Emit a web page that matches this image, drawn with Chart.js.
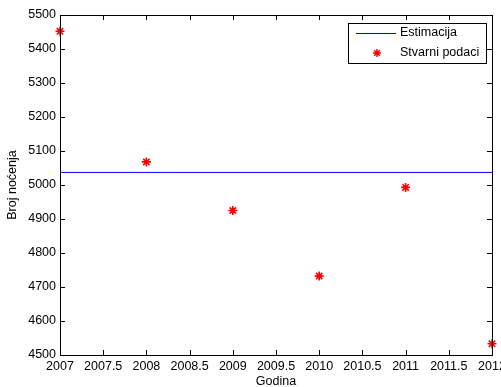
<!DOCTYPE html>
<html>
<head>
<meta charset="utf-8">
<script src="https://cdn.jsdelivr.net/npm/chart.js@4"></script>
<style>
  html, body { margin: 0; padding: 0; background: #fff; }
  #wrap { width: 501px; height: 387px; }
</style>
</head>
<body>
<div id="wrap"><canvas id="chart" width="501" height="387"></canvas></div>
<script>
// Data
const years = [2007, 2008, 2009, 2010, 2011, 2012];
const nights = [5452, 5068, 4925, 4732, 4993, 4533];
const estimate = 5037; // constant estimate
const xTicks = [2007, 2007.5, 2008, 2008.5, 2009, 2009.5, 2010, 2010.5, 2011, 2011.5, 2012];
const yTicks = [4500, 4600, 4700, 4800, 4900, 5000, 5100, 5200, 5300, 5400, 5500];
const seriesNames = ["Estimacija", "Stvarni podaci"];
const xTitle = "Godina";
const yTitle = "Broj noćenja";

const FONT = "Liberation Sans, Arial, sans-serif";
const FSIZE = 12.5;

// Box round the plot with inward ticks (MATLAB style), titles and legend
const boxPlugin = {
    id: "box",
    afterDraw(chart) {
        const ctx = chart.ctx;
        const a = chart.chartArea;
        const x = chart.scales.x;
        const y = chart.scales.y;
        ctx.save();
        ctx.strokeStyle = "#000";
        ctx.lineWidth = 1;
        ctx.beginPath();
        xTicks.forEach(function (t) {
            const px = Math.round(x.getPixelForValue(t)) + 0.5;
            ctx.moveTo(px, a.bottom);
            ctx.lineTo(px, a.bottom - 5);
            ctx.moveTo(px, a.top);
            ctx.lineTo(px, a.top + 5);
        });
        yTicks.forEach(function (t) {
            const py = Math.round(y.getPixelForValue(t)) + 0.5;
            ctx.moveTo(a.left, py);
            ctx.lineTo(a.left + 5, py);
            ctx.moveTo(a.right, py);
            ctx.lineTo(a.right - 5, py);
        });
        ctx.stroke();
        ctx.strokeRect(Math.round(a.left) + 0.5, Math.round(a.top) + 0.5,
            Math.round(a.right - a.left), Math.round(a.bottom - a.top));

        // axis titles
        ctx.fillStyle = "#000";
        ctx.font = FSIZE + "px " + FONT;
        ctx.textAlign = "center";
        ctx.textBaseline = "middle";
        ctx.fillText(xTitle, (a.left + a.right) / 2, 382);
        ctx.save();
        ctx.translate(13, (a.top + a.bottom) / 2);
        ctx.rotate(-Math.PI / 2);
        ctx.fillText(yTitle, 0, 0);
        ctx.restore();

        // legend box
        const lx = 348, ly = 23, lw = 138, lh = 40;
        ctx.fillStyle = "#fff";
        ctx.fillRect(lx, ly, lw, lh);
        ctx.strokeStyle = "#000";
        ctx.strokeRect(lx + 0.5, ly + 0.5, lw, lh);
        // line sample
        ctx.fillStyle = "#0000ff";
        ctx.fillRect(356, 33, 40, 1);
        // asterisk marker
        ctx.strokeStyle = "#ff0000";
        ctx.lineWidth = 1.5;
        ctx.beginPath();
        const cx = 377, cy = 53, r = 4;
        ctx.moveTo(cx - r, cy); ctx.lineTo(cx + r, cy);
        ctx.moveTo(cx, cy - r); ctx.lineTo(cx, cy + r);
        ctx.moveTo(cx - r * 0.7, cy - r * 0.7); ctx.lineTo(cx + r * 0.7, cy + r * 0.7);
        ctx.moveTo(cx - r * 0.7, cy + r * 0.7); ctx.lineTo(cx + r * 0.7, cy - r * 0.7);
        ctx.stroke();
        ctx.fillStyle = "#000";
        ctx.textAlign = "left";
        ctx.fillText(seriesNames[0], 400, 33);
        ctx.fillText(seriesNames[1], 400, 53);
        ctx.restore();
    }
};

const ctx = document.getElementById("chart");
new Chart(ctx, {
    type: "scatter",
    data: {
        datasets: [
            {
                label: seriesNames[0],
                type: "line",
                data: [{x: years[0], y: estimate}, {x: years[years.length - 1], y: estimate}],
                borderColor: "#0000ff",
                borderWidth: 1,
                pointRadius: 0,
                fill: false,
            },
            {
                label: seriesNames[1],
                data: years.map((yr, i) => ({x: yr, y: nights[i]})),
                pointStyle: "star",
                pointRadius: 4.5,
                borderColor: "#ff0000",
                backgroundColor: "#ff0000",
                borderWidth: 1.6,
            },
        ],
    },
    options: {
        responsive: false,
        animation: false,
        clip: false,
        layout: {padding: {top: 15, right: 9, left: 0, bottom: 0}},
        plugins: {
            legend: {display: false},
            tooltip: {enabled: false},
        },
        scales: {
            x: {
                type: "linear",
                min: 2007,
                max: 2012,
                afterBuildTicks(scale) {
                    scale.ticks = xTicks.map((v) => ({value: v}));
                },
                afterFit(scale) {
                    scale.height = 32;
                    scale.paddingLeft = 0;
                    scale.paddingRight = 0;
                },
                grid: {display: false, drawTicks: false},
                border: {display: false},
                ticks: {
                    color: "#000",
                    font: {family: FONT, size: FSIZE},
                    padding: 4,
                    maxRotation: 0,
                    autoSkip: false,
                    callback: (v) => String(v),
                },
            },
            y: {
                min: 4500,
                max: 5500,
                afterBuildTicks(scale) {
                    scale.ticks = yTicks.map((v) => ({value: v}));
                },
                afterFit(scale) {
                    scale.width = 60;
                    scale.paddingTop = 0;
                    scale.paddingBottom = 0;
                },
                grid: {display: false, drawTicks: false},
                border: {display: false},
                ticks: {
                    color: "#000",
                    font: {family: FONT, size: FSIZE},
                    padding: 4,
                    autoSkip: false,
                    callback: (v) => String(v),
                },
            },
        },
    },
    plugins: [boxPlugin],
});
</script>
</body>
</html>
